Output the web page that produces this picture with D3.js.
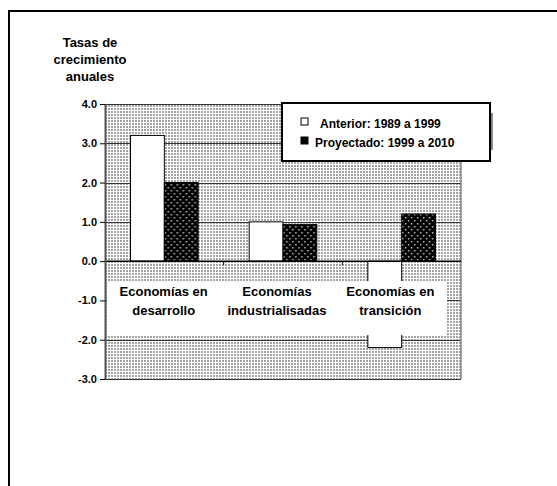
<!DOCTYPE html>
<html>
<head>
<meta charset="utf-8">
<script src="https://cdn.jsdelivr.net/npm/d3@7"></script>
<style>
  body { margin: 0; background: #fff; }
  svg { display: block; font-family: Arial, 'Liberation Sans', sans-serif; }
</style>
</head>
<body>
<svg id="chart" width="557" height="486"></svg>
<script>
const categories = ['Economías en desarrollo', 'Economías industrialisadas', 'Economías en transición']
const categoryLines = [['Economías en', 'desarrollo'], ['Economías', 'industrialisadas'], ['Economías en', 'transición']]
const seriesNames = ['Anterior: 1989 a 1999', 'Proyectado: 1999 a 2010']
const anterior = [3.2, 1.0, -2.2]
const proyectado = [2.0, 0.93, 1.2]
const yTicks = [4, 3, 2, 1, 0, -1, -2, -3]
const titleLines = ['Tasas de', 'crecimiento', 'anuales']

const svg = d3.select('#chart')
const plot = { left: 105, right: 461, top: 104, bottom: 379 }

// patterns
const defs = svg.append('defs')
const bgPat = defs.append('pattern')
  .attr('id', 'bgdots')
  .attr('width', 3)
  .attr('height', 3)
  .attr('patternUnits', 'userSpaceOnUse')
bgPat.append('rect').attr('width', 3).attr('height', 3).attr('fill', '#fff')
bgPat.append('rect').attr('x', 0).attr('y', 0).attr('width', 2).attr('height', 2).attr('fill', '#a4a4a4')

const darkPat = defs.append('pattern')
  .attr('id', 'darkdots')
  .attr('width', 6)
  .attr('height', 6)
  .attr('patternUnits', 'userSpaceOnUse')
darkPat.append('rect').attr('width', 6).attr('height', 6).attr('fill', '#000')
darkPat.append('rect').attr('x', 1).attr('y', 1).attr('width', 1.5).attr('height', 1.5).attr('fill', '#bbb')
darkPat.append('rect').attr('x', 4).attr('y', 4).attr('width', 1.5).attr('height', 1.5).attr('fill', '#bbb')

// outer frame
svg.append('rect')
  .attr('x', 9)
  .attr('y', 11)
  .attr('width', 700)
  .attr('height', 700)
  .attr('fill', 'none')
  .attr('stroke', '#000')
  .attr('stroke-width', 2)

const x0 = d3.scaleBand()
  .domain(categories)
  .range([plot.left, plot.right])
  .paddingInner(0.43)
  .paddingOuter(0.215)

const x1 = d3.scaleBand()
  .domain(seriesNames)
  .range([0, x0.bandwidth()])

const yScale = d3.scaleLinear().domain([-3, 4]).range([plot.bottom, plot.top])

// plot background
svg.append('rect')
  .attr('x', plot.left)
  .attr('y', plot.top)
  .attr('width', plot.right - plot.left)
  .attr('height', plot.bottom - plot.top)
  .attr('fill', 'url(#bgdots)')

// gridlines
svg.append('g')
  .selectAll('line')
  .data(yTicks)
  .join('line')
  .attr('x1', plot.left)
  .attr('x2', plot.right)
  .attr('y1', d => Math.round(yScale(d)) + 0.5)
  .attr('y2', d => Math.round(yScale(d)) + 0.5)
  .attr('stroke', '#333')
  .attr('stroke-width', 1)

// right border of plot
svg.append('line')
  .attr('x1', plot.right)
  .attr('x2', plot.right)
  .attr('y1', plot.top)
  .attr('y2', plot.bottom)
  .attr('stroke', '#888')
  .attr('stroke-width', 1.5)

// bars
const rows = categories.map((c, i) => ({ cat: c, values: [anterior[i], proyectado[i]] }))
const fills = ['#fff', 'url(#darkdots)']

svg.append('g')
  .selectAll('g')
  .data(rows)
  .join('g')
  .attr('transform', d => `translate(${x0(d.cat)},0)`)
  .selectAll('rect')
  .data(d => d.values.map((v, j) => ({ name: seriesNames[j], value: v, j })))
  .join('rect')
  .attr('x', d => x1(d.name))
  .attr('width', x1.bandwidth())
  .attr('y', d => yScale(Math.max(0, d.value)))
  .attr('height', d => Math.abs(yScale(d.value) - yScale(0)))
  .attr('fill', d => fills[d.j])
  .attr('stroke', '#000')
  .attr('stroke-width', 1)

// category label box
const labelX = d3.scaleBand().domain(categories).range([107, 447])

svg.append('rect')
  .attr('x', 107)
  .attr('y', 281)
  .attr('width', 340)
  .attr('height', 54)
  .attr('fill', '#fff')

svg.append('g')
  .selectAll('text')
  .data(categories)
  .join('text')
  .attr('text-anchor', 'middle')
  .attr('font-size', 13)
  .attr('font-weight', 'bold')
  .attr('fill', '#000')
  .each(function (d, i) {
    d3.select(this)
      .selectAll('tspan')
      .data(categoryLines[i])
      .join('tspan')
      .attr('x', labelX(d) + labelX.bandwidth() / 2)
      .attr('y', (t, k) => 296 + k * 18.5)
      .text(t => t)
  })

// zero line with category ticks
svg.append('line')
  .attr('x1', plot.left)
  .attr('x2', plot.right)
  .attr('y1', yScale(0))
  .attr('y2', yScale(0))
  .attr('stroke', '#000')
  .attr('stroke-width', 1.5)

svg.append('g')
  .selectAll('line')
  .data(categories.slice(1))
  .join('line')
  .attr('x1', d => x0(d) - x0.step() * x0.paddingInner() / 2)
  .attr('x2', d => x0(d) - x0.step() * x0.paddingInner() / 2)
  .attr('y1', yScale(0))
  .attr('y2', yScale(0) + 4)
  .attr('stroke', '#000')

// y axis
const fmt = d3.format('.1f')
const yAxis = d3.axisLeft(yScale)
  .tickValues(yTicks)
  .tickSize(5)
  .tickSizeOuter(0)
  .tickPadding(3)
  .tickFormat(d => fmt(d).replace('−', '-'))

const yG = svg.append('g')
  .attr('transform', `translate(${plot.left},0)`)
  .call(yAxis)

yG.select('.domain').attr('stroke', '#555').attr('stroke-width', 2)
yG.selectAll('.tick line').attr('stroke', '#000')
yG.selectAll('.tick text')
  .attr('font-size', 11)
  .attr('font-weight', 'bold')
  .attr('font-family', 'Arial, Liberation Sans, sans-serif')
  .attr('fill', '#000')

// title
svg.append('text')
  .attr('text-anchor', 'middle')
  .attr('font-size', 13)
  .attr('font-weight', 'bold')
  .selectAll('tspan')
  .data(titleLines)
  .join('tspan')
  .attr('x', 90)
  .attr('y', (d, i) => 47 + i * 17)
  .text(d => d)

// legend
const legend = svg.append('g')

legend.append('rect')
  .attr('x', 490)
  .attr('y', 113)
  .attr('width', 3)
  .attr('height', 37)
  .attr('fill', '#888')

legend.append('rect')
  .attr('x', 282)
  .attr('y', 103)
  .attr('width', 208)
  .attr('height', 58)
  .attr('fill', '#fff')
  .attr('stroke', '#000')
  .attr('stroke-width', 2)

const legendItems = legend.selectAll('.item')
  .data(seriesNames)
  .join('g')
  .attr('class', 'item')
  .attr('transform', (d, i) => `translate(301,${118 + i * 19})`)

legendItems.append('rect')
  .attr('width', 7)
  .attr('height', 7)
  .attr('fill', (d, i) => (i === 0 ? '#fff' : '#000'))
  .attr('stroke', '#000')
  .attr('stroke-width', 1)

legendItems.append('text')
  .attr('x', (d, i) => (i === 0 ? 19 : 14))
  .attr('y', 10)
  .attr('font-size', 12)
  .attr('font-weight', 'bold')
  .text(d => d)
</script>
</body>
</html>
